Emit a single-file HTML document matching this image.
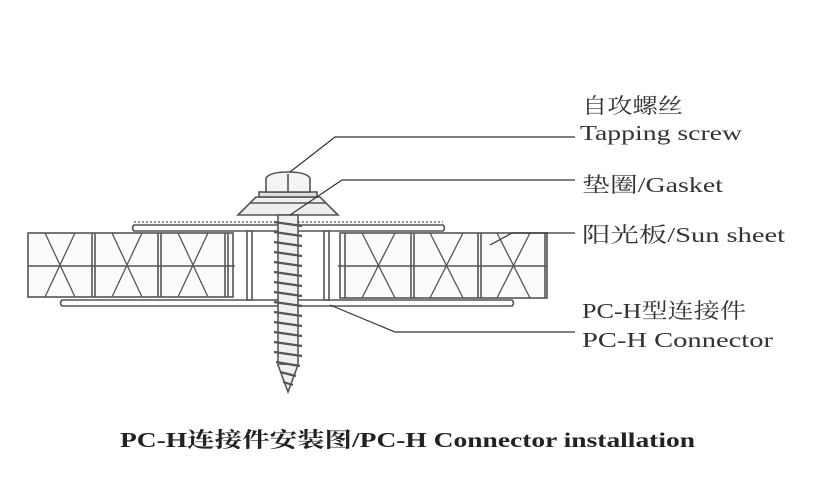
<!DOCTYPE html>
<html><head><meta charset="utf-8"><style>
html,body{margin:0;padding:0;background:#fff;width:826px;height:478px;overflow:hidden}
svg{display:block}
.t{font-family:"Liberation Serif","Noto Serif CJK SC",serif;font-size:21px;fill:#333}
</style></head><body>
<svg width="826" height="478" viewBox="0 0 826 478">
<g stroke="#555" fill="none" stroke-width="1.6">
<!-- left panel -->
<rect x="28" y="233" width="205" height="64" fill="#fbfbfb"/>
<line x1="28" y1="266" x2="235" y2="266"/>
<line x1="92" y1="233" x2="92" y2="297"/><line x1="95" y1="233" x2="95" y2="297"/>
<line x1="158" y1="233" x2="158" y2="297"/><line x1="161" y1="233" x2="161" y2="297"/>
<line x1="225" y1="233" x2="225" y2="297"/><line x1="228" y1="233" x2="228" y2="297"/>
<path d="M45 233 L75 297 M75 233 L45 297 M112 233 L142 297 M142 233 L112 297 M178 233 L208 297 M208 233 L178 297" stroke-width="1.3"/>
<!-- right panel -->
<rect x="340" y="233" width="207" height="65" fill="#fbfbfb"/>
<line x1="338" y1="266" x2="547" y2="266"/>
<line x1="345" y1="233" x2="345" y2="298"/>
<line x1="411" y1="233" x2="411" y2="298"/><line x1="414" y1="233" x2="414" y2="298"/>
<line x1="478" y1="233" x2="478" y2="298"/><line x1="481" y1="233" x2="481" y2="298"/>
<line x1="545" y1="233" x2="545" y2="298"/>
<path d="M362 233 L395 298 M395 233 L362 298 M430 233 L463 298 M463 233 L430 298 M497 233 L530 298 M530 233 L497 298" stroke-width="1.3"/>
<!-- H connector -->
<path d="M134 225 L443 225 Q446 228 443 231 L134 231 Q131 228 134 225 Z" fill="#fff"/>
<line x1="134" y1="222" x2="443" y2="222" stroke-dasharray="2 2" stroke-width="1.2"/>
<path d="M62 300 L512 300 Q515 303 512 306 L62 306 Q59 303 62 300 Z" fill="#fff"/>
<rect x="247" y="231" width="5" height="69" fill="#fff"/>
<rect x="324" y="231" width="5" height="69" fill="#fff"/>
<!-- gasket -->
<path d="M238 215 L338 215 L320 197 L256 197 Z" fill="#eee"/>
<line x1="250" y1="203" x2="326" y2="203"/>
<rect x="259" y="192" width="58" height="5" fill="#ddd"/>
<!-- head -->
<path d="M266 192 L266 178 Q270 172 288 172 Q306 172 310 178 L310 192 Z" fill="#f4f4f4"/>
<line x1="288" y1="174" x2="288" y2="192"/>
<!-- screw -->
<rect x="278" y="215" width="20" height="150" fill="#f0f0f0"/>
<path d="M278 365 L288 392 L298 365" fill="#f0f0f0"/>
<path d="M274 222 L302 226 M274 232 L302 236 M274 242 L302 246 M274 252 L302 256 M274 262 L302 266 M274 272 L302 276 M274 282 L302 286 M274 292 L302 296 M274 302 L302 306 M274 312 L302 316 M274 322 L302 326 M274 332 L302 336 M274 342 L302 346 M274 352 L302 356 M276 362 L300 366 M280 372 L296 376 M283 382 L293 385" stroke-width="2.2"/>
</g>
<!-- leaders -->
<g stroke="#333" stroke-width="1.2" fill="none">
<polyline points="290,172 335,137 575,137"/>
<polyline points="290,215 342,180 575,180"/>
<polyline points="490,245 512,233 575,233"/>
<polyline points="330,305 395,332 575,332"/>
</g>
<text class="t" x="582" y="113" textLength="101" lengthAdjust="spacingAndGlyphs">自攻螺丝</text>
<text class="t" x="580" y="140" textLength="162" lengthAdjust="spacingAndGlyphs">Tapping screw</text>
<text class="t" x="582" y="192" textLength="141" lengthAdjust="spacingAndGlyphs">垫圈/Gasket</text>
<text class="t" x="582" y="242" textLength="203" lengthAdjust="spacingAndGlyphs">阳光板/Sun sheet</text>
<text class="t" x="582" y="318" textLength="164" lengthAdjust="spacingAndGlyphs">PC-H型连接件</text>
<text class="t" x="582" y="347" textLength="191" lengthAdjust="spacingAndGlyphs">PC-H Connector</text>
<text class="t" x="120" y="447" style="font-weight:bold;fill:#222" textLength="575" lengthAdjust="spacingAndGlyphs">PC-H连接件安装图/PC-H Connector installation</text>
</svg>
</body></html>
